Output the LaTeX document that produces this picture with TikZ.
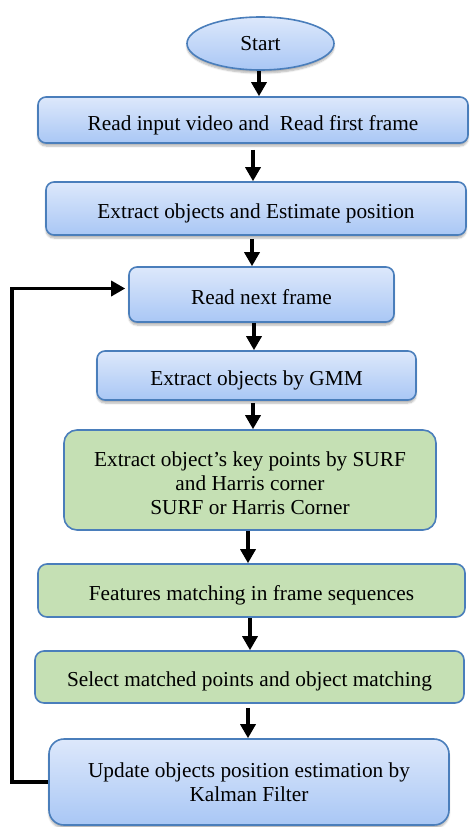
\documentclass[tikz,border=0pt]{standalone}
\usepackage{fontspec}
\setmainfont{Liberation Serif}
\usetikzlibrary{arrows.meta,shapes.geometric,shadows.blur}
\definecolor{edgeblue}{HTML}{4A7EBB}
\definecolor{bluetop}{HTML}{DDE8FB}
\definecolor{bluebot}{HTML}{A9C7F5}
\definecolor{greenfill}{HTML}{C5E0B4}
\newcommand{\lines}[1]{\begin{tabular}[b]{@{}c@{}}#1\end{tabular}}
\tikzset{
  txt/.style={font=\fontsize{21.3}{24}\selectfont, align=center, inner sep=0pt},
  oneline/.style={text height=22pt, text depth=3pt},
  bluebox/.style={txt, draw=edgeblue, line width=1.6pt, rounded corners=8pt,
    top color=bluetop, bottom color=bluebot,
    blur shadow={shadow xshift=0pt, shadow yshift=-3pt, shadow opacity=30, shadow blur steps=6}},
  greenbox/.style={txt, draw=edgeblue, line width=1.6pt, rounded corners=9pt, fill=greenfill},
  arr/.style={line width=3.3pt, -{Triangle[width=15pt,length=14pt]}},
}
\begin{document}
\begin{tikzpicture}[x=1pt,y=1pt]
\useasboundingbox (0,0) rectangle (473,-827);

\node[bluebox, shape=ellipse, minimum width=147pt, minimum height=53pt] (start) at (260.5,-43.5) {Start};
\node[bluebox, oneline, text height=24pt, minimum width=430pt, minimum height=46pt] (b1) at (253,-120) {Read input video and~ Read first frame};
\node[bluebox, oneline, minimum width=420pt, minimum height=53pt] (b2) at (256,-208.5) {Extract objects and Estimate position};
\node[bluebox, oneline, minimum width=265pt, minimum height=55pt] (b3) at (261.5,-294.5) {Read next frame};
\node[bluebox, oneline, minimum width=319pt, minimum height=49pt] (b4) at (256.5,-375.5) {Extract objects by GMM};
\node[greenbox, rounded corners=13pt, text height=70pt, text depth=2pt, minimum width=372pt, minimum height=100pt] (b5) at (250,-480)
  {\lines{Extract object’s key points by SURF\\and Harris corner\\SURF or Harris Corner}};
\node[greenbox, oneline, minimum width=427pt, minimum height=53pt] (b6) at (251.5,-590.5) {Features matching in frame sequences};
\node[greenbox, oneline, minimum width=429pt, minimum height=52pt] (b7) at (249.5,-677) {Select matched points and object matching};
\node[bluebox, rounded corners=15pt, text height=43.5pt, text depth=4.5pt, minimum width=400pt, minimum height=86pt] (b8) at (249,-782)
  {\lines{Update objects position estimation by\\Kalman Filter}};

% columns of the downward arrows
\coordinate (c0) at (259,0);
\coordinate (c1) at (253,0);
\coordinate (c2) at (252,0);
\coordinate (c3) at (254,0);
\coordinate (c4) at (253,0);
\coordinate (c5) at (248,0);
\coordinate (c6) at (250,0);
\coordinate (c7) at (248,0);

\draw[arr] (start.south -| c0) -- (b1.north -| c0);
\draw[arr, shorten <=6pt] (b1.south -| c1) -- (b2.north -| c1);
\draw[arr, shorten <=3pt] (b2.south -| c2) -- (b3.north -| c2);
\draw[arr] (b3.south -| c3) -- (b4.north -| c3);
\draw[arr, shorten <=2pt] (b4.south -| c4) -- (b5.north -| c4);
\draw[arr] (b5.south -| c5) -- (b6.north -| c5);
\draw[arr] (b6.south -| c6) -- (b7.north -| c6);
\draw[arr, shorten <=4pt] (b7.south -| c7) -- (b8.north -| c7);

% feedback loop
\coordinate (lx) at (12,0);
\draw[arr, shorten >=3pt] (b8.west) -- (b8.west -| lx) |- ([yshift=6pt]b3.west);
\end{tikzpicture}
\end{document}
